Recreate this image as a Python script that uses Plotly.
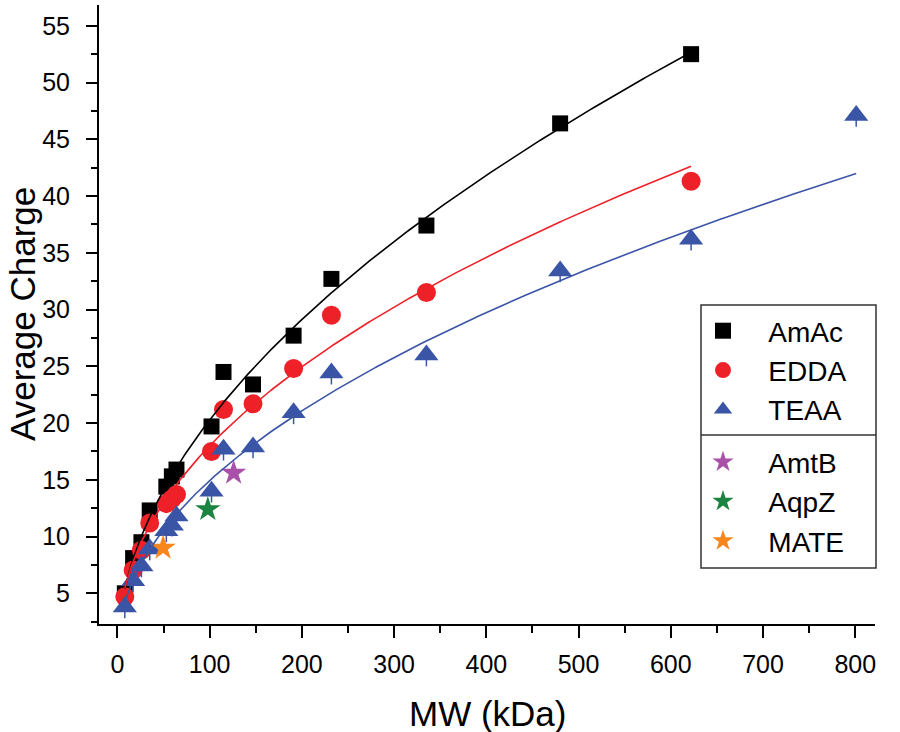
import numpy as np
import plotly.graph_objects as go

# ---------------- data ----------------
mw_amac = [8, 17, 26, 35, 53, 59, 64, 102, 115, 147, 191, 232, 335, 480, 622]
amac = [5.0, 8.1, 9.5, 12.3, 14.4, 15.3, 15.9, 19.7, 24.5, 23.4, 27.7, 32.7, 37.4, 46.4, 52.5]

mw_edda = [8, 17, 26, 35, 53, 59, 64, 102, 115, 147, 191, 232, 335, 622]
edda = [4.7, 7.05, 8.8, 11.2, 12.9, 13.3, 13.7, 17.5, 21.2, 21.7, 24.8, 29.5, 31.5, 41.3]

mw_teaa = [8, 17, 26, 35, 53, 59, 64, 102, 115, 147, 191, 232, 335, 480, 622, 801]
teaa = [3.8, 6.1, 7.4, 8.9, 10.5, 11.0, 11.8, 14.0, 17.7, 17.9, 20.9, 24.4, 26.0, 33.4, 36.2, 47.1]
teaa_err = [1.0] * len(teaa)

mw_amtb, amtb = [126], [15.6]
mw_aqpz, aqpz = [98], [12.4]
mw_mate, mate = [49.5], [9.0]

x_ticks = list(range(0, 801, 100))
y_ticks = list(range(5, 56, 5))

# ---------------- styling ----------------
C_BLACK = "#000000"
C_RED = "#EE2128"
C_BLUE = "#3A55A6"
C_PURPLE = "#A951A8"
C_GREEN = "#1A8440"
C_ORANGE = "#F7861F"
FONT = "Arial, Liberation Sans, sans-serif"

W, H = 900, 732
ML, MR, MT, MB = 99, 25, 5, 108


def px2paper(px, py):
    pw = W - ML - MR
    ph = H - MT - MB
    return (px - ML) / pw, 1 - (py - MT) / ph


def power_fit(x, y):
    # allometric fit y = a * x^b (least squares)
    x = np.asarray(x, float)
    y = np.asarray(y, float)
    best = None
    for b in np.linspace(0.2, 1.0, 4001):
        xb = x ** b
        a = (y * xb).sum() / (xb * xb).sum()
        sse = ((y - a * xb) ** 2).sum()
        if best is None or sse < best[0]:
            best = (sse, a, b)
    return best[1], best[2]


fig = go.Figure()

pad = "\u00a0\u00a0\u00a0"
fig.add_trace(go.Scatter(x=mw_amac, y=amac, mode="markers", name=pad + "AmAc",
                         legendgroup="solv",
                         marker=dict(symbol="square", size=16, color=C_BLACK)))
fig.add_trace(go.Scatter(x=mw_edda, y=edda, mode="markers", name=pad + "EDDA",
                         legendgroup="solv",
                         marker=dict(symbol="circle", size=19, color=C_RED)))
fig.add_trace(go.Scatter(x=mw_teaa, y=teaa, mode="markers", name=pad + "TEAA",
                         legendgroup="solv",
                         error_y=dict(type="data", symmetric=False,
                                      array=[0] * len(teaa), arrayminus=teaa_err,
                                      width=0, thickness=1.5, color=C_BLUE),
                         marker=dict(symbol="triangle-up", size=21, color=C_BLUE)))
fig.add_trace(go.Scatter(x=mw_amtb, y=amtb, mode="markers", name=pad + "AmtB",
                         legendgroup="prot",
                         marker=dict(symbol="star", size=19, color=C_PURPLE)))
fig.add_trace(go.Scatter(x=mw_aqpz, y=aqpz, mode="markers", name=pad + "AqpZ",
                         legendgroup="prot",
                         marker=dict(symbol="star", size=19, color=C_GREEN)))
fig.add_trace(go.Scatter(x=mw_mate, y=mate, mode="markers", name=pad + "MATE",
                         legendgroup="prot",
                         marker=dict(symbol="star", size=19, color=C_ORANGE)))

# fitted power-law curves; the TEAA fit uses the points up to 622 kDa and is
# drawn across the full TEAA range
fits = [
    (mw_amac, amac, len(mw_amac), C_BLACK),
    (mw_edda, edda, len(mw_edda), C_RED),
    (mw_teaa, teaa, len(mw_teaa) - 1, C_BLUE),
]
for xs, ys, nfit, col in fits:
    a, b = power_fit(xs[:nfit], ys[:nfit])
    xf = np.linspace(min(xs), max(xs), 300)
    fig.add_trace(go.Scatter(x=xf, y=a * xf ** b, mode="lines", showlegend=False,
                             line=dict(color=col, width=1.6), hoverinfo="skip"))

# legend frame and divider
bx0, by0 = px2paper(701, 305)
bx1, by1 = px2paper(876, 568)
_, dy = px2paper(0, 435)
shapes = [
    dict(type="rect", xref="paper", yref="paper", x0=bx0, x1=bx1, y0=by1, y1=by0,
         line=dict(color="#333333", width=1.5), fillcolor="rgba(0,0,0,0)", layer="above"),
    dict(type="line", xref="paper", yref="paper", x0=bx0, x1=bx1, y0=dy, y1=dy,
         line=dict(color="#333333", width=1.5), layer="above"),
]

lx, ly = px2paper(701, 306)
xt_x, xt_y = px2paper(487, 713)
yt_x, yt_y = px2paper(22, 314)

annotations = [
    dict(text="MW (kDa)", xref="paper", yref="paper", x=xt_x, y=xt_y,
         xanchor="center", yanchor="middle", showarrow=False,
         font=dict(family=FONT, size=35, color="black")),
    dict(text="Average Charge", xref="paper", yref="paper", x=yt_x, y=yt_y,
         xanchor="center", yanchor="middle", showarrow=False, textangle=-90,
         font=dict(family=FONT, size=35, color="black")),
]

axis_common = dict(
    showline=True, linecolor="black", linewidth=2,
    ticks="outside", tickcolor="black", tickwidth=2,
    showgrid=False, zeroline=False, mirror=False, automargin=False,
    tickfont=dict(family=FONT, size=25, color="black"),
)

fig.update_layout(
    width=W, height=H,
    margin=dict(l=ML, r=MR, t=MT, b=MB),
    paper_bgcolor="white", plot_bgcolor="white",
    font=dict(family=FONT, color="black"),
    shapes=shapes,
    annotations=annotations,
    showlegend=True,
    legend=dict(x=lx, y=ly, xanchor="left", yanchor="top",
                font=dict(family=FONT, size=28, color="black"),
                bgcolor="rgba(0,0,0,0)", borderwidth=0,
                traceorder="grouped", tracegroupgap=13,
                itemsizing="trace", itemwidth=34),
    xaxis=dict(range=[-20, 821.4], tickvals=x_ticks, ticklen=12,
               minor=dict(dtick=50, tick0=0, ticks="outside", ticklen=7, tickwidth=2,
                          tickcolor="black", showgrid=False),
               ticklabelstandoff=5,
               **axis_common),
    yaxis=dict(range=[2.295, 56.83], tickvals=y_ticks, ticklen=11,
               minor=dict(dtick=2.5, tick0=5, ticks="outside", ticklen=6, tickwidth=2,
                          tickcolor="black", showgrid=False),
               ticklabelstandoff=11,
               **axis_common),
)

fig.write_html("out.html",
               config={"displayModeBar": False},
               post_script="document.body.style.margin='0px';document.body.style.padding='0px';")
